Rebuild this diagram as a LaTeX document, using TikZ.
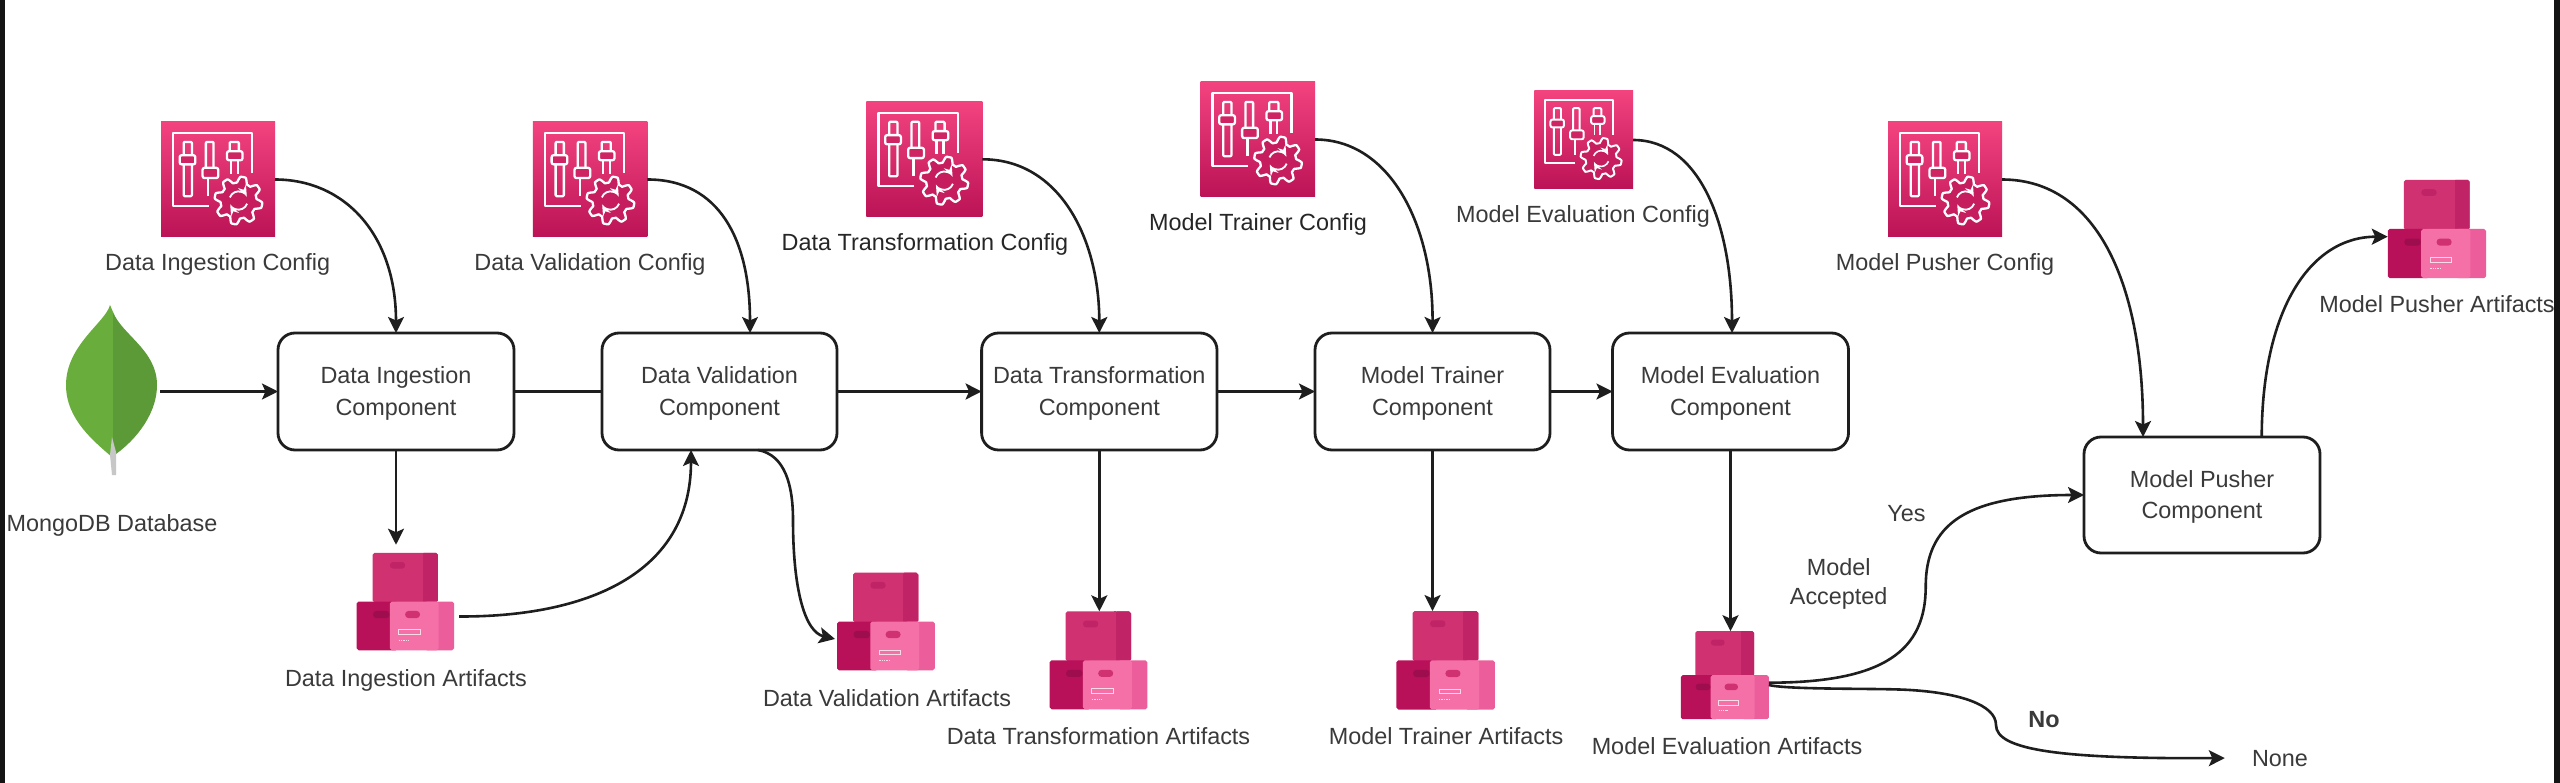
\documentclass[tikz,border=0pt]{standalone}
\usepackage{fontspec}
\setmainfont{Liberation Sans}
\usetikzlibrary{arrows.meta}
\definecolor{ink}{HTML}{1E1E1E}
\definecolor{txt}{HTML}{3A3A3A}
\definecolor{txtdark}{HTML}{262626}
\definecolor{icontop}{HTML}{F3437F}
\definecolor{iconbot}{HTML}{BB1356}
\definecolor{upmain}{HTML}{CF3171}
\definecolor{upside}{HTML}{C12466}
\definecolor{lowdark}{HTML}{B9105A}
\definecolor{lowlight}{HTML}{F570A6}
\definecolor{lowside}{HTML}{EC5E9B}
\definecolor{hole}{HTML}{9E0E4E}
\definecolor{leafa}{HTML}{69AE3C}
\definecolor{leafb}{HTML}{5C9A38}
\newcommand\twolines[2]{\rule{0pt}{21pt}#1\\#2}
\tikzset{
  comp/.style={draw=ink,line width=2.8pt,rounded corners=17pt,fill=white,inner sep=0pt,outer sep=0pt,
    minimum height=117pt,align=center,text=txt,font=\fontsize{23.4}{31.5}\selectfont},
  lab/.style={anchor=base,inner sep=0pt,text=txt,font=\fontsize{23.4}{29}\selectfont},
  labd/.style={lab,text=txtdark},
  cfgbox/.style={inner sep=0pt,outer sep=0pt,top color=icontop,bottom color=iconbot,draw=none},
  stackbox/.style={inner sep=0pt,outer sep=0pt,draw=none},
  flow/.style={draw=ink,line width=2.6pt,-{Stealth[length=16pt,width=16pt,inset=3.5pt]}},
  plainflow/.style={draw=ink,line width=2.6pt},
  pics/cfgicon/.style={code={
    \begin{scope}[x=#1pt,y=-#1pt,line width=0.02*#1pt,draw=white,line join=round]
      \draw (.416,.735) -- (.105,.735) -- (.105,.096) -- (.794,.096) -- (.794,.445);
      \draw[rounded corners=1pt] (.198,.174) rectangle (.27,.648);
      \draw[fill=icontop!35!iconbot,rounded corners=2pt] (.163,.29) rectangle (.30,.37);
      \draw[rounded corners=1pt] (.392,.40) -- (.392,.174) -- (.459,.174) -- (.459,.40);
      \draw (.41,.49) -- (.41,.648);
      \draw[fill=icontop!35!iconbot,rounded corners=2pt] (.363,.40) rectangle (.50,.49);
      \draw[rounded corners=1pt] (.60,.255) -- (.60,.174) -- (.68,.174) -- (.68,.255);
      \draw[fill=icontop!35!iconbot,rounded corners=2pt] (.576,.255) rectangle (.712,.334);
      \draw (.61,.334) -- (.61,.45) (.67,.334) -- (.67,.45);
      \begin{scope}[shift={(.677,.686)}]
        \draw[fill=icontop!20!iconbot] plot[domain=0:360,samples=181]
          (\x:{0.183+0.026*max(-1,min(1,1.6*sin(8*\x)))}) -- cycle;
        \draw[line width=0.016*#1pt,-Stealth] (200:.08) arc (200:335:.08);
        \draw[line width=0.016*#1pt,-Stealth] (20:.08) arc (20:155:.08);
      \end{scope}
    \end{scope}}},
  pics/boxstack/.style={code={
    \begin{scope}[x=#1pt,y=-#1pt]
      \fill[upmain,rounded corners=0.02*#1pt] (.164,0) rectangle (.832,.51);
      \fill[upside,rounded corners=0.02*#1pt] (.67,0) rectangle (.832,.51);
      \fill[upmain] (.66,0) rectangle (.68,.51);
      \fill[upside,rounded corners=0.03*#1pt] (.342,.095) rectangle (.497,.163);
      \fill[lowside,rounded corners=0.02*#1pt] (.70,.5) rectangle (1,1);
      \fill[lowdark,rounded corners=0.02*#1pt] (0,.5) rectangle (.42,1);
      \fill[lowlight,rounded corners=0.02*#1pt] (.34,.5) rectangle (.84,1);
      \fill[hole,rounded corners=0.03*#1pt] (.17,.597) rectangle (.335,.67);
      \fill[upmain,rounded corners=0.035*#1pt] (.497,.597) rectangle (.65,.67);
      \draw[white!75!lowlight,line width=0.006*#1pt] (.43,.79) rectangle (.65,.84);
      \draw[white!75!lowlight,line width=0.012*#1pt,dash pattern=on 0.015*#1pt off 0.01*#1pt] (.43,.90) -- (.54,.90);
    \end{scope}}}
}
\begin{document}
\begin{tikzpicture}[x=1pt,y=-1pt]
\useasboundingbox (0,0) rectangle (2560,783);
\fill[white] (0,0) rectangle (2560,783);
\fill[black!92] (0,0) rectangle (5,783);
\fill[black!92] (2554,0) rectangle (2560,783);

% leaf
\fill[leafa] (110,305) .. controls (106,322) and (66,345) .. (66,385) .. controls (66,420) and (95,442) .. (113,458) -- (113,312) -- cycle;
\fill[leafb] (113,312) .. controls (122,335) and (157,350) .. (157,385) .. controls (157,418) and (130,445) .. (113,456) -- cycle;
\fill[black!22] (112,437) -- (110,455) -- (112,475) -- (116,475) -- (116,452) -- cycle;
\node[stackbox,minimum width=92pt,minimum height=172pt] (mongo) at (112,391.5) {};

% config icons
\node[cfgbox,minimum width=114pt,minimum height=115pt] (c1) at (218,179.5) {};
\node[cfgbox,minimum width=114.5pt,minimum height=115pt] (c2) at (590.2,179.5) {};
\node[cfgbox,minimum width=116pt,minimum height=115pt] (c3) at (924.4,159.3) {};
\node[cfgbox,minimum width=114.5pt,minimum height=115pt] (c4) at (1257.8,139.5) {};
\node[cfgbox,minimum width=98.6pt,minimum height=98pt] (c5) at (1583.7,140) {};
\node[cfgbox,minimum width=114pt,minimum height=115pt] (c6) at (1945,179.5) {};
\pic at (c1.north west) {cfgicon=114.5};
\pic at (c2.north west) {cfgicon=114.5};
\pic at (c3.north west) {cfgicon=115};
\pic at (c4.north west) {cfgicon=114.5};
\pic at (c5.north west) {cfgicon=98.5};
\pic at (c6.north west) {cfgicon=114.5};

% labels
\node[lab] (lc1) at (217.7,271) {Data Ingestion Config};
\node[lab] (lc2) at (590,271) {Data Validation Config};
\node[labd] (lc3) at (925,251) {Data Transformation Config};
\node[labd] (lc4) at (1258,231) {Model Trainer Config};
\node[lab] (lc5) at (1583,223) {Model Evaluation Config};
\node[lab] (lc6) at (1945,271) {Model Pusher Config};

% components
\node[comp,minimum width=236pt] (b1) at (396,391.5) {\twolines{Data Ingestion}{Component}};
\node[comp,minimum width=235pt] (b2) at (719.5,391.5) {\twolines{Data Validation}{Component}};
\node[comp,minimum width=235.4pt] (b3) at (1099.3,391.5) {\twolines{Data Transformation}{Component}};
\node[comp,minimum width=235pt] (b4) at (1432.5,391.5) {\twolines{Model Trainer}{Component}};
\node[comp,minimum width=236pt] (b5) at (1730.5,391.5) {\twolines{Model Evaluation}{Component}};
\node[comp,minimum width=236pt,minimum height=116pt] (b6) at (2202,495) {\twolines{Model Pusher}{Component}};

% artifact stacks
\node[stackbox,minimum size=97.5pt] (a1) at (405.4,601.5) {};
\node[stackbox,minimum size=97.7pt] (a2) at (885.9,621.5) {};
\node[stackbox,minimum size=97.9pt] (a3) at (1098.5,660.3) {};
\node[stackbox,minimum size=98.5pt] (a4) at (1445.7,660.3) {};
\node[stackbox,minimum size=88pt] (a5) at (1724.8,675.2) {};
\node[stackbox,minimum size=98.3pt] (a6) at (2436.9,229) {};
\pic at (a1.north west) {boxstack=97.5};
\pic at (a2.north west) {boxstack=97.7};
\pic at (a3.north west) {boxstack=97.9};
\pic at (a4.north west) {boxstack=98.5};
\pic at (a5.north west) {boxstack=88};
\pic at (a6.north west) {boxstack=98.3};

\node[lab] (la1) at (406,686) {Data Ingestion Artifacts};
\node[lab] (la2) at (887,706) {Data Validation Artifacts};
\node[lab] (la3) at (1098.5,744) {Data Transformation Artifacts};
\node[lab] (la4) at (1446,744) {Model Trainer Artifacts};
\node[lab] (la5) at (1727,754) {Model Evaluation Artifacts};
\node[lab] (la6) at (2437,313) {Model Pusher Artifacts};
\node[lab] (lm) at (112,531) {MongoDB Database};

\node[lab,align=center,anchor=center] (acc) at (1838.7,584) {Model\\Accepted};
\node[lab] (yes) at (1906.5,521) {Yes};
\node[lab,font=\fontsize{23.4}{29}\selectfont\bfseries] (no) at (2044,727) {No};
\node[lab] (none) at (2280,766) {None};

% straight connectors
\draw[flow] ([xshift=48pt]mongo.center) -- (b1.west);
\draw[plainflow] (b1.east) -- (b2.west);
\draw[flow] (b2.east) -- (b3.west);
\draw[flow] (b3.east) -- (b4.west);
\draw[flow] (b4.east) -- (b5.west);
\draw[flow] (b1.south) -- ([yshift=8pt]b1.south |- a1.north);
\draw[flow] (b3.south) -- (b3.south |- a3.north);
\draw[flow] (b4.south) -- (b4.south |- a4.north);
\draw[flow] (b5.south) -- (b5.south |- a5.north);

% config to component
\draw[flow] (c1.east) .. controls +(70,0) and (396,235) .. (b1.north);
\draw[flow] (c2.east) .. controls +(72,0) and (750,240) .. ([xshift=30.5pt]b2.north);
\draw[flow] (c3.east) .. controls +(78,0) and (1099.3,240) .. (b3.north);
\draw[flow] (c4.east) .. controls +(75,0) and (1433,225) .. (b4.north);
\draw[flow] (c5.east) .. controls +(67,0) and (1732,225) .. ([xshift=1.5pt]b5.north);
\draw[flow] (c6.east) .. controls +(98,0) and (2143,290) .. ([xshift=-59pt]b6.north);

% artifacts
\draw[flow] ([xshift=5pt,yshift=-15pt]a1.east) .. controls (585,617) and (691,575) .. ([xshift=-28.5pt]b2.south);
\draw[flow] ([xshift=38.5pt]b2.south) .. controls (785,455) and (793,485) .. (793,520) .. controls (793,590) and (805,632) .. ([xshift=-2pt,yshift=-17.5pt]a2.west);
\draw[flow] ([xshift=59.7pt]b6.north) .. controls (2262,310) and (2310,236.7) .. ([yshift=-7.7pt]a6.west);

% decision
\draw[flow] ([yshift=-7.5pt]a5.east) .. controls (1885,682.7) and (1925.7,650) .. (1925.7,586.7) .. controls (1925.7,525) and (1965,495) .. (b6.west);
\draw[flow] ([yshift=-9.8pt]a5.east) .. controls (1790,690) and (1880,688) .. (1910,690) .. controls (1960,693) and (1996,705) .. (1996,725) .. controls (1996,750) and (2060,759) .. ([xshift=-27pt]none.west);
\end{tikzpicture}
\end{document}
